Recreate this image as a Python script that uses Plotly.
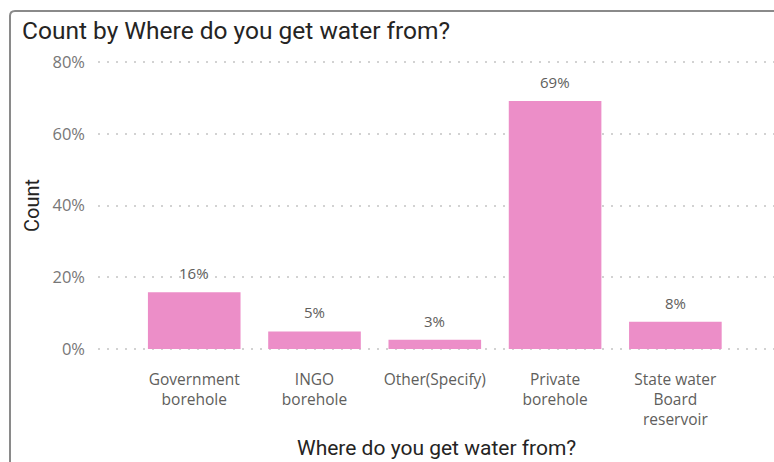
import plotly.graph_objects as go

# Survey answers: share of respondents by water source
categories = [
    "Government<br>borehole",
    "INGO<br>borehole",
    "Other(Specify)",
    "Private<br>borehole",
    "State water<br>Board<br>reservoir",
]
shares = [0.158, 0.049, 0.026, 0.691, 0.076]
y_ticks = [0, 0.2, 0.4, 0.6, 0.8]
y_tick_labels = ["0%", "20%", "40%", "60%", "80%"]

W, H = 774, 462
PAD = 4  # pixels of breathing room above 80% and below 0%
ML, MR, MT, MB = 98, 0, 62 - PAD, 113 - PAD
PW, PH = W - ML - MR, H - MT - MB
UNIT = 287 / 0.8  # pixels per 100% of the value axis


def px_x(px):
    return (px - ML) / PW


def px_y(py):
    return (H - MB - py) / PH


fig = go.Figure(
    go.Bar(
        x=list(range(len(categories))),
        y=shares,
        width=0.77,
        marker=dict(color="#EC8EC8", line=dict(width=0)),
        hoverinfo="skip",
    )
)

# value labels above each bar
for i, v in enumerate(shares):
    fig.add_annotation(
        x=i, y=v, xref="x", yref="y",
        text=f"{v:.0%}", showarrow=False,
        yanchor="bottom", yshift=7,
        font=dict(family="Open Sans", size=15, color="#605E5C"),
    )

# axis titles
fig.add_annotation(
    x=px_x(436), y=px_y(448), xref="paper", yref="paper",
    text="Where do you get water from?", showarrow=False,
    xanchor="center", yanchor="middle",
    font=dict(family="Roboto", size=21, color="#252423"),
)
fig.add_annotation(
    x=px_x(32), y=px_y(206), xref="paper", yref="paper",
    text="Count", showarrow=False, textangle=-90,
    xanchor="center", yanchor="middle",
    font=dict(family="Roboto", size=20, color="#252423"),
)

# visual frame: left and top edges with a rounded corner
x0, y0 = px_x(10), px_y(11)
rx, ry = 5 / PW, 5 / PH
frame = (
    f"M {x0},{px_y(470)} L {x0},{y0 - ry} "
    f"Q {x0},{y0} {x0 + rx},{y0} L {px_x(800)},{y0}"
)
fig.add_shape(
    type="path", path=frame, xref="paper", yref="paper",
    line=dict(color="#8A8A8A", width=2), layer="above",
)

fig.update_layout(
    width=W,
    height=H,
    margin=dict(l=ML, r=MR, t=MT, b=MB),
    paper_bgcolor="white",
    plot_bgcolor="white",
    showlegend=False,
    title=dict(
        text="Count by Where do you get water from?",
        x=22 / W,
        xanchor="left",
        y=1 - 30 / H,
        yanchor="middle",
        font=dict(family="Roboto", size=24.5, color="#252423"),
    ),
    xaxis=dict(
        range=[-0.8, 4.82],
        tickmode="array",
        tickvals=list(range(len(categories))),
        ticktext=categories,
        showgrid=False,
        zeroline=False,
        showline=False,
        ticks="",
        ticklabelstandoff=15,
        tickfont=dict(family="Open Sans", size=15.5, color="#605E5C"),
    ),
    yaxis=dict(
        range=[-PAD / UNIT, 0.8 + PAD / UNIT],
        tickmode="array",
        tickvals=y_ticks,
        ticktext=y_tick_labels,
        showgrid=True,
        gridcolor="#D2D2D2",
        griddash="2px,7px",
        gridwidth=1.5,
        zeroline=False,
        showline=False,
        ticks="",
        ticklabelstandoff=12,
        tickfont=dict(family="Open Sans", size=16.5, color="#777777"),
    ),
)

fig.write_html("out.html")
